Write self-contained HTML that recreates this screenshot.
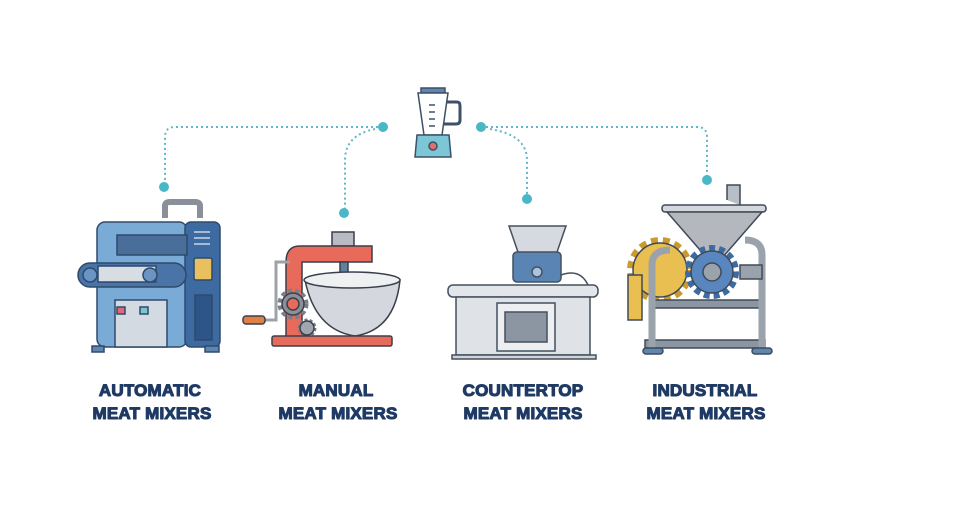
<!DOCTYPE html>
<html><head><meta charset="utf-8"><style>
html,body{margin:0;padding:0;background:#fff;width:960px;height:520px;overflow:hidden}
svg{display:block}
text{font-family:"Liberation Sans",sans-serif;font-weight:bold;fill:#1f3a64;font-size:17px;text-anchor:middle;letter-spacing:0.2px;stroke:#1f3a64;stroke-width:1.1;stroke-linejoin:round}
</style></head><body>
<svg width="960" height="520" viewBox="0 0 960 520" xmlns="http://www.w3.org/2000/svg">
<g fill="none" stroke="#5fb8c9" stroke-width="2" stroke-dasharray="2 3">
<path d="M383 127 H175 Q165 127 165 137 V187"/>
<path d="M375 129 Q345 135 345 160 V213"/>
<path d="M481 127 H697 Q707 127 707 137 V180"/>
<path d="M490 129 Q527 135 527 160 V199"/>
</g>
<g fill="#4ab7c7"><circle cx="383" cy="127" r="5"/><circle cx="481" cy="127" r="5"/><circle cx="164" cy="187" r="5"/><circle cx="344" cy="213" r="5"/><circle cx="527" cy="199" r="5"/><circle cx="707" cy="180" r="5"/></g>
<!-- blender -->
<g stroke="#3c5068" stroke-width="1.5">
<rect x="421" y="88" width="24" height="5" fill="#5f86b0"/>
<path d="M447 102 H457 Q460 102 460 106 V120 Q460 124 456 124 H444" fill="none" stroke-width="3"/>
<path d="M418 93 H448 L442 135 H424 Z" fill="#fff"/>
<g stroke-width="1.5"><line x1="429" y1="105" x2="435" y2="105"/><line x1="429" y1="112" x2="435" y2="112"/><line x1="429" y1="119" x2="435" y2="119"/><line x1="429" y1="126" x2="435" y2="126"/></g>
<path d="M417 135 H449 L451 157 H415 Z" fill="#7cc6d6"/>
<circle cx="433" cy="146" r="4" fill="#e0706e"/>
</g>
<!-- automatic -->
<g stroke="#2e4a6b" stroke-width="1.5">
<path d="M165 218 V206 Q165 202 170 202 H195 Q200 202 200 206 V218" fill="none" stroke="#8a9099" stroke-width="6"/>
<rect x="97" y="222" width="90" height="125" rx="8" fill="#7aaad6"/>
<rect x="185" y="222" width="35" height="125" rx="6" fill="#3d6aa0"/>
<g stroke="#c8d6e6" stroke-width="1.5"><line x1="194" y1="232" x2="210" y2="232"/><line x1="194" y1="238" x2="210" y2="238"/><line x1="194" y1="244" x2="210" y2="244"/></g>
<rect x="117" y="235" width="70" height="20" fill="#4a6e9a"/>
<rect x="115" y="300" width="52" height="47" fill="#d4dae2"/>
<rect x="117" y="307" width="8" height="7" fill="#e06878"/><rect x="140" y="307" width="8" height="7" fill="#79c6cc"/>
<rect x="78" y="263" width="108" height="24" rx="12" fill="#4a74a8"/>
<rect x="98" y="266" width="58" height="16" fill="#d8dde4"/>
<circle cx="90" cy="275" r="7" fill="#6a94c4"/><circle cx="150" cy="275" r="7" fill="#6a94c4"/>
<rect x="194" y="258" width="18" height="22" rx="2" fill="#e8c060"/>
<rect x="195" y="295" width="17" height="45" fill="#2e5588"/>
<rect x="92" y="346" width="12" height="6" fill="#5f86b0"/><rect x="205" y="346" width="14" height="6" fill="#5f86b0"/>
</g>
<!-- manual -->
<g stroke="#3b3f4a" stroke-width="1.5">
<rect x="332" y="232" width="22" height="14" fill="#b8bcc2"/>
<path d="M286 340 V262 Q286 246 300 246 H372 V262 H302 V340 Z" fill="#e86a5a"/>
<rect x="340" y="262" width="8" height="22" fill="#6080a0"/>
<path d="M305 280 H400 Q395 330 355 336 Q315 330 305 280 Z" fill="#d4d8de"/>
<ellipse cx="352" cy="280" rx="48" ry="8" fill="#eef0f2"/>
<circle cx="293" cy="304" r="13" fill="none" stroke="#7a8088" stroke-width="5" stroke-dasharray="4 3"/>
<circle cx="293" cy="304" r="11" fill="#8a909a"/><circle cx="293" cy="304" r="6" fill="#e86a5a"/>
<circle cx="307" cy="328" r="8" fill="none" stroke="#7a8088" stroke-width="3" stroke-dasharray="3 2"/>
<circle cx="307" cy="328" r="7" fill="#a0a6ae"/>
<path d="M290 262 H276 V320 H262" fill="none" stroke="#9ca2aa" stroke-width="3"/>
<rect x="243" y="316" width="22" height="8" rx="3" fill="#e08048"/>
<rect x="272" y="336" width="120" height="10" rx="2" fill="#e86a5a"/>
</g>
<!-- countertop -->
<g stroke="#44505e" stroke-width="1.5">
<path d="M509 226 H566 L556 255 H519 Z" fill="#d6dae0"/>
<rect x="513" y="252" width="48" height="30" rx="4" fill="#5a84b4"/>
<circle cx="537" cy="272" r="5" fill="#a8c4e0"/>
<path d="M561 275 Q580 268 588 285" fill="none"/>
<rect x="448" y="285" width="150" height="12" rx="5" fill="#e2e6ea"/>
<rect x="456" y="297" width="134" height="58" fill="#dfe3e8"/>
<rect x="497" y="303" width="58" height="48" fill="#eceef1"/>
<rect x="505" y="312" width="42" height="30" fill="#8c96a2"/>
<rect x="452" y="355" width="144" height="4" fill="#cfd4da"/>
</g>
<!-- industrial -->
<g stroke="#3e4a58" stroke-width="1.5">
<path d="M727 200 V185 H740 V205" fill="#b8bec6"/>
<circle cx="660" cy="270" r="30" fill="none" stroke="#c99a30" stroke-width="6" stroke-dasharray="7 5"/>
<circle cx="660" cy="270" r="27" fill="#e9bf52"/>
<rect x="628" y="275" width="14" height="45" fill="#e9bf52"/>
<rect x="662" y="205" width="104" height="7" rx="3" fill="#d4d8de"/>
<path d="M667 212 H762 L722 258 H707 Z" fill="#b4b8be"/>
<rect x="645" y="340" width="120" height="8" fill="#8c96a2"/>
<rect x="650" y="300" width="110" height="8" fill="#8c96a2"/>
<path d="M652 348 V265 Q652 250 670 250" fill="none" stroke="#9aa2ac" stroke-width="7"/>
<path d="M762 348 V255 Q762 240 745 240" fill="none" stroke="#9aa2ac" stroke-width="7"/>
<circle cx="712" cy="272" r="24" fill="none" stroke="#3d6aa0" stroke-width="6" stroke-dasharray="6 4"/>
<circle cx="712" cy="272" r="21" fill="#5a86c0"/><circle cx="712" cy="272" r="9" fill="#9aa2ac"/>
<rect x="740" y="265" width="22" height="14" fill="#9aa2ac"/>
<rect x="643" y="348" width="20" height="6" rx="3" fill="#5f86b0"/><rect x="752" y="348" width="20" height="6" rx="3" fill="#5f86b0"/>
</g>
<text x="150" y="396">AUTOMATIC</text><text x="152" y="419">MEAT MIXERS</text>
<text x="336" y="396">MANUAL</text><text x="338" y="419">MEAT MIXERS</text>
<text x="523" y="396">COUNTERTOP</text><text x="523" y="419">MEAT MIXERS</text>
<text x="705" y="396">INDUSTRIAL</text><text x="706" y="419">MEAT MIXERS</text>
</svg>
</body></html>
